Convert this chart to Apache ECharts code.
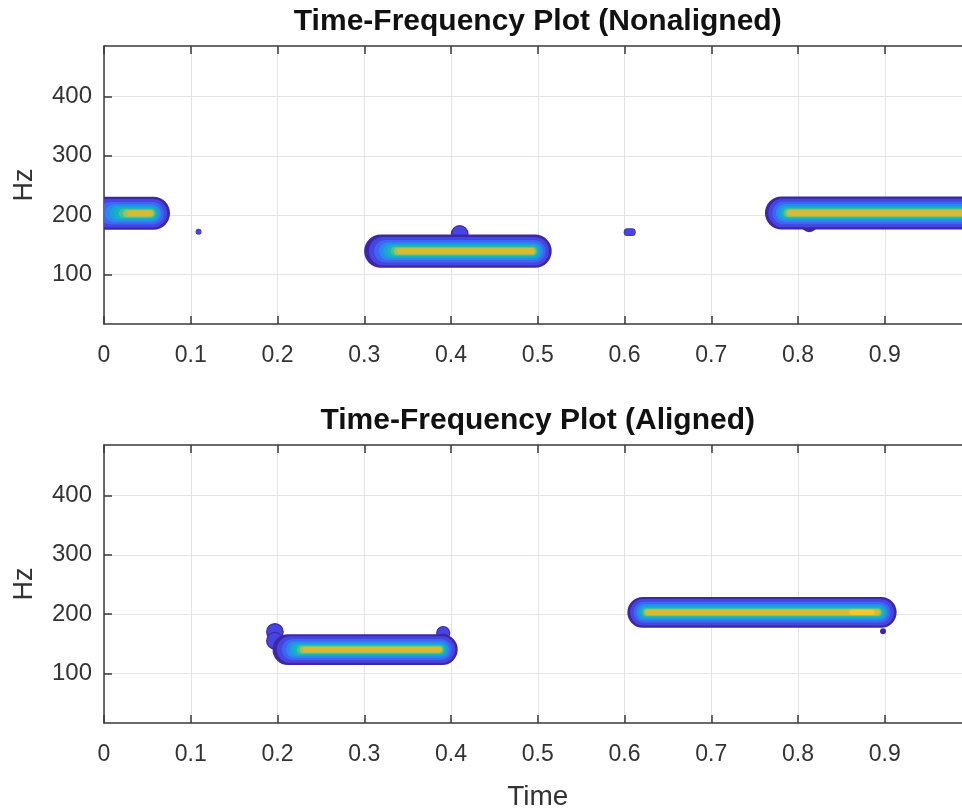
<!DOCTYPE html>
<html><head><meta charset="utf-8">
<script src="https://cdn.jsdelivr.net/npm/echarts@6/dist/echarts.min.js"></script>
<style>html,body{margin:0;padding:0;background:#fff}#chart{width:962px;height:808px}</style>
</head><body><div id="chart"></div>
<script>
// ---- axes / ticks ----
const timeRange = [0, 1];
const freqRange = [16, 485.5];
const yTickValues = [100, 200, 300, 400];
const titles = ['Time-Frequency Plot (Nonaligned)', 'Time-Frequency Plot (Aligned)'];

// ---- spectrogram ridges ----
// each ridge: start time, end time, centre frequency (Hz), half band (Hz),
// lowest / highest colour level, ramp in / ramp out of the inner levels (s)
const nonStart   = [0.109, 0.6035, 0.410, 0.813, 0.000, 0.319, 0.781];
const nonEnd     = [0.109, 0.6085, 0.410, 0.813, 0.057, 0.497, 1.050];
const nonFreq    = [172,   171,    168,   185,   203,   139,   203.5];
const nonBand    = [5,     6.5,    15,    14,    28,    28,    28];
const nonLow     = [0,     0,      0,     0,     0,     0,     0];
const nonHigh    = [1,     1,      1,     0,     8,     8,     8];
const nonRampIn  = [0,     0,      0,     0,     0.030, 0.022, 0.010];
const nonRampOut = [0,     0,      0,     0,     0.004, 0.004, 0];

const aliStart   = [0.197, 0.197, 0.391, 0.391, 0.898, 0.212, 0.621, 0.862];
const aliEnd     = [0.197, 0.197, 0.391, 0.391, 0.898, 0.390, 0.896, 0.885];
const aliFreq    = [170,   155,   168,   155,   171,   140,   203,   203];
const aliBand    = [15,    15,    12,    12,    5,     26,    26,    4.5];
const aliLow     = [0,     0,     0,     0,     0,     0,     0,     9];
const aliHigh    = [1,     1,     1,     1,     0,     8,     8,     9];
const aliRampIn  = [0,     0,     0,     0,     0,     0.020, 0.006, 0];
const aliRampOut = [0,     0,     0,     0,     0,     0.004, 0.005, 0];

// parula-like colour levels and their relative band widths
const LEVEL_COLORS = ['#3e26a8', '#4545e0', '#3d66f5', '#2c87ee', '#1ba3d8', '#13b6bd', '#45c193', '#9cc162', '#dcb932', '#f6c62a'];
const LEVEL_H = [1.0, 0.86, 0.68, 0.54, 0.43, 0.35, 0.28, 0.22, 0.17, 0.10];

function buildData(s, e, f, b, lo, hi, ri, ro) {
  return s.map((v, i) => [v, e[i], f[i], b[i], lo[i], hi[i], ri[i], ro[i]]);
}

function renderRidge(params, api) {
  const t0 = api.value(0), t1 = api.value(1), f = api.value(2), band = api.value(3);
  const lo = api.value(4), hi = api.value(5), rin = api.value(6), rout = api.value(7);
  const span = Math.max(1, hi - lo);
  const children = [];
  for (let k = lo; k <= hi; k++) {
    const j = k - lo;
    const frac = j / span;
    let a = t0 + rin * frac, b = t1 - rout * frac;
    if (b < a) { const m = (a + b) / 2; a = m; b = m; }
    const p0 = api.coord([a, f]), p1 = api.coord([b, f]);
    const h = Math.abs(api.size([0, band * LEVEL_H[j]])[1]);
    children.push({
      type: 'rect',
      shape: { x: p0[0] - h, y: p0[1] - h, width: (p1[0] - p0[0]) + 2 * h, height: 2 * h, r: h },
      style: { fill: LEVEL_COLORS[k] }
    });
  }
  return { type: 'group', children };
}

const FONT = 'Liberation Sans';
const AX = '#3a3a3a';
function xAxisBottom(grid, name) {
  return {
    type: 'value', gridIndex: grid, position: 'bottom', min: timeRange[0], max: timeRange[1], interval: 0.1,
    axisLine: { show: true, lineStyle: { color: AX, width: 1.5 } },
    axisTick: { show: true, inside: true, length: 8, lineStyle: { color: AX, width: 1.5 } },
    axisLabel: { color: '#333', fontFamily: FONT, fontSize: 23, margin: 20,
      formatter: v => (v > 0.95 ? '' : String(Math.round(v * 10) / 10)) },
    splitLine: { show: true, lineStyle: { color: '#e3e3e3', width: 1 } },
    name: name, nameLocation: 'middle', nameGap: 60,
    nameTextStyle: { color: '#333', fontFamily: FONT, fontSize: 28 }
  };
}
function xAxisTop(grid, title) {
  return {
    type: 'value', gridIndex: grid, position: 'top', min: timeRange[0], max: timeRange[1], interval: 0.1,
    axisLine: { show: true, lineStyle: { color: AX, width: 1.5 } },
    axisTick: { show: true, inside: true, length: 8, lineStyle: { color: AX, width: 1.5 } },
    axisLabel: { show: false }, splitLine: { show: false },
    name: title, nameLocation: 'middle', nameGap: 9,
    nameTextStyle: { color: '#111', fontFamily: FONT, fontSize: 30, fontWeight: 'bold' }
  };
}
function yAxisLeft(grid) {
  return {
    type: 'value', gridIndex: grid, min: freqRange[0], max: freqRange[1],
    axisLine: { show: true, lineStyle: { color: AX, width: 1.5 } },
    axisTick: { show: true, inside: true, length: 8, customValues: yTickValues, lineStyle: { color: AX, width: 1.5 } },
    axisLabel: { color: '#333', fontFamily: FONT, fontSize: 24, margin: 12, customValues: yTickValues },
    splitLine: { show: true, lineStyle: { color: '#e3e3e3', width: 1 } },
    name: 'Hz', nameLocation: 'middle', nameGap: 66,
    nameTextStyle: { color: '#333', fontFamily: FONT, fontSize: 27 }
  };
}

const chart = echarts.init(document.getElementById('chart'), null, { renderer: 'canvas' });
chart.setOption({
  backgroundColor: '#fff',
  animation: false,
  grid: [
    { left: 104, top: 46, width: 867.5, height: 278, outerBoundsMode: 'none', containLabel: false },
    { left: 104, top: 445, width: 867.5, height: 278, outerBoundsMode: 'none', containLabel: false }
  ],
  xAxis: [xAxisBottom(0, ''), xAxisTop(0, titles[0]), xAxisBottom(1, 'Time'), xAxisTop(1, titles[1])],
  yAxis: [yAxisLeft(0), yAxisLeft(1)],
  series: [
    { type: 'custom', xAxisIndex: 0, yAxisIndex: 0, clip: true, silent: true, renderItem: renderRidge,
      data: buildData(nonStart, nonEnd, nonFreq, nonBand, nonLow, nonHigh, nonRampIn, nonRampOut) },
    { type: 'custom', xAxisIndex: 2, yAxisIndex: 1, clip: true, silent: true, renderItem: renderRidge,
      data: buildData(aliStart, aliEnd, aliFreq, aliBand, aliLow, aliHigh, aliRampIn, aliRampOut) }
  ]
});
</script></body></html>
